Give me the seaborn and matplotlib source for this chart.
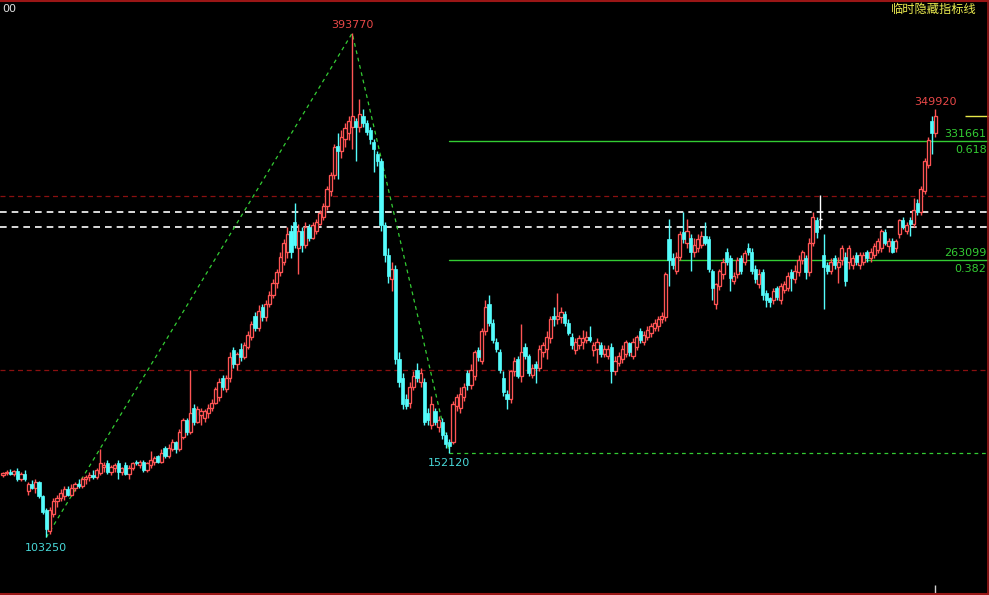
import numpy as np
import pandas as pd
import matplotlib
matplotlib.use("Agg")
import matplotlib.pyplot as plt
from matplotlib.lines import Line2D
import seaborn as sns

# Daily OHLC prices, in thousands
opens = [
    139.5, 140.5, 141, 140, 141.5, 137, 140, 130, 134, 132,
    135, 127, 119, 107, 117, 124, 126, 127, 131, 128,
    132, 134, 133, 137, 138, 139, 138, 140.5, 144, 146,
    141, 143, 146, 141, 145, 140, 143, 147, 145, 147,
    142, 145, 147, 150, 147, 155, 150, 154, 158, 154,
    161, 171, 164, 178, 170, 174, 172, 175, 178, 181,
    184, 195, 189, 195, 211, 203, 212, 207, 213, 219,
    231, 224, 236, 230, 238, 243, 250, 256, 262, 268,
    280, 285, 270, 280, 272, 282, 276, 280, 284, 288,
    294, 303, 312, 329, 326, 333, 336, 340, 343, 340,
    346, 342, 338, 331, 324, 320, 283, 266, 252, 258,
    206, 195, 183, 181, 190, 200, 193, 193, 175, 168,
    176, 167, 170, 162, 158, 158, 179, 178, 184, 198,
    191, 196, 211, 205, 222, 238, 227, 216, 210, 195,
    186, 183, 199, 206, 196, 213, 208, 197, 203, 201,
    210, 212, 218, 231, 229, 230, 232, 227, 219, 211,
    214, 216, 217, 219, 211, 212, 214, 209, 208, 213,
    199, 204, 206, 209, 215, 208, 213, 222, 216, 219,
    221, 224, 225, 229, 230, 275, 264, 257, 265, 279,
    273, 276, 268, 270, 272, 277, 275, 257, 238, 248,
    255, 268, 264, 251, 255, 264, 262, 270, 268, 258,
    249, 256, 244, 241, 240, 247, 240, 246, 247, 256,
    252, 256, 263, 264, 256, 273, 286, 287, 266, 260,
    257, 264, 259, 263, 265, 262, 260, 266, 260, 262,
    268, 264, 266, 269, 270, 279, 271, 274, 270, 278,
    286, 280, 286, 284, 296, 291, 303, 318, 343, 336,
]
highs = [
    141, 142, 142.5, 142, 143, 141, 142, 135, 136.5, 137,
    136, 128, 120, 121, 126, 128, 131, 133, 133, 134,
    135, 137, 138, 139, 141, 142, 143, 154, 147, 148,
    145, 146, 148, 144, 147, 145, 147, 148, 148, 148,
    147, 153, 150, 151, 154, 156, 157, 160, 159, 166,
    172, 172, 199.7, 180, 179, 178, 177, 180, 183, 190,
    195, 197, 197, 210, 213, 210, 215, 216, 222, 228,
    233, 237, 238, 240, 245, 252, 258, 268, 275, 282,
    283, 296, 284, 282, 285, 284, 285, 287, 292, 296,
    306, 314, 330, 336, 338, 342, 346, 393.77, 345, 356,
    350, 344, 340, 333, 326, 322, 285, 270, 262, 260,
    210, 198, 186, 193, 199, 204, 201, 195, 178, 185,
    178, 173, 172, 164, 160, 182, 186, 190, 192, 200,
    203, 211, 213, 224, 240, 243, 229, 218, 212, 199,
    188, 200, 207, 208, 226, 215, 209, 203, 205, 214,
    216, 222, 231, 236, 244, 236, 234, 229, 221, 218,
    220, 223, 222, 225, 216, 218, 216, 214, 214, 215,
    208, 210, 214, 217, 216, 218, 220, 224, 222, 225,
    227, 229, 231, 233, 256, 287, 267, 268, 280, 291,
    287, 278, 276, 278, 280, 285, 277, 258, 250, 258,
    264, 270, 266, 256, 265, 266, 269, 273, 270, 260,
    258, 258, 246, 242, 247, 248, 250, 251, 256, 258,
    260, 266, 269, 266, 276, 291, 288, 300.5, 278, 262,
    264, 266, 265, 272, 268, 272, 266, 268, 268, 268,
    269, 270, 273, 276, 281, 281, 276, 276, 275, 287,
    288, 285, 288, 299, 298, 306, 322, 334, 346, 349.92,
]
lows = [
    138, 139, 139.5, 138.5, 136, 135.5, 136, 128, 131, 129,
    126, 117, 103.25, 105, 115, 121, 124, 125, 127, 127,
    130, 132, 131.5, 134, 136, 137, 137, 139, 141, 140,
    139.5, 141, 137, 139, 139, 137, 142, 145, 143, 141,
    141, 143, 145, 146, 146, 149, 149, 153, 152, 153,
    160, 162, 163, 168, 169, 168, 170, 172, 176, 180,
    182, 188, 187, 193, 201, 200, 205, 206, 212, 217,
    222, 222, 228, 228, 236, 241, 247, 254, 260, 264,
    264, 270, 255, 268, 270, 274, 275, 278, 283, 286,
    292, 300, 310, 310, 322, 328, 332, 327, 320, 337,
    340, 335, 330, 314, 317, 280, 262, 250, 245, 203,
    190, 177, 177, 178, 188, 193, 190, 168, 168, 166,
    168, 164, 160, 155, 152.12, 157, 176, 175, 182, 188,
    189, 194, 205, 203, 220, 225, 215, 210, 198, 185,
    177, 181, 196, 195, 193, 206, 196, 195, 192, 199,
    207, 206, 215, 225, 226, 227, 225, 220, 212, 209,
    212, 212, 215, 216, 208, 204, 207, 207, 206, 192,
    197, 202, 204, 207, 208, 206, 211, 215, 214, 217,
    219, 222, 222, 227, 228, 248, 258, 255, 263, 273,
    270, 257, 265, 268, 270, 272, 256, 240, 235, 246,
    252, 260, 245, 249, 253, 255, 260, 266, 255, 250,
    247, 240, 236, 236, 238, 240, 238, 244, 245, 245,
    250, 254, 261, 252, 254, 271, 276, 281, 235, 255,
    255, 258, 250, 260, 248, 258, 258, 260, 258, 260,
    262, 262, 264, 267, 268, 272, 268, 267, 268, 276,
    281, 278, 277, 282, 289, 289, 301, 316, 324, 334,
]
closes = [
    140.5, 141, 140, 141.5, 137, 140, 137, 134, 132, 135,
    127, 118, 108, 119, 124, 126, 129, 131, 128, 132,
    134, 133, 137, 138, 139, 138, 142, 146, 145, 141,
    144, 145, 141, 143, 140, 143, 146, 146, 147, 142,
    146, 148, 149, 147, 152, 150, 155, 158, 154, 164,
    171, 164, 175, 170, 177, 176, 176, 178, 181, 189,
    193, 190, 195, 207, 203, 209, 207, 214, 220, 226,
    224, 234, 230, 238, 243, 250, 256, 265, 273, 278,
    268, 272, 280, 272, 282, 276, 283, 285, 290, 294,
    304, 312, 328, 326, 334, 339, 343, 346, 340, 347,
    342, 337, 333, 327, 320, 283, 266, 254, 258, 206,
    193, 180, 179, 190, 196, 195, 198, 170, 171, 180,
    170, 171, 162, 157, 156, 180, 184, 186, 190, 191,
    200, 210, 207, 222, 236, 227, 217, 212, 200, 187,
    183, 199, 205, 196, 210, 208, 198, 201, 201, 212,
    214, 219, 229, 229, 231, 233, 227, 221, 214, 216,
    218, 218, 219, 217, 214, 216, 209, 212, 212, 199,
    205, 208, 212, 216, 210, 216, 219, 217, 220, 223,
    225, 227, 229, 231, 255, 263, 260, 265, 278, 275,
    280, 268, 272, 275, 277, 273, 258, 247, 249, 257,
    262, 262, 253, 254, 263, 257, 267, 268, 257, 252,
    255, 243, 240, 239, 245, 242, 248, 249, 254, 253,
    257, 263, 268, 256, 273, 288, 279, 287, 259, 257,
    262, 260, 262, 270, 251, 270, 264, 262, 266, 266,
    264, 268, 271, 274, 280, 273, 274, 268, 274, 286,
    282, 283, 284, 292, 291, 304, 320, 332, 336, 346,
]

# Reference price lines (thousands)
red_levels = [300.0, 200.0]
white_levels = [290.7, 282.1]
fib_ratios = [0.618, 0.382]
title_text = "临时隐藏指标线"
corner_text = "00"

UNIT = 1000
UP_COLOR = "#ff5454"
DOWN_COLOR = "#54fcfc"
FLAT_COLOR = "#ffffff"
GREEN = "#33cc33"
BORDER = "#9a1616"

df = pd.DataFrame({"open": opens, "high": highs, "low": lows, "close": closes})
df["x"] = np.arange(len(df))
n = len(df)

sns.set_theme(style="dark")
plt.rcParams["font.family"] = ["DejaVu Sans", "Noto Sans CJK SC"]

fig = plt.figure(figsize=(9.89, 5.95), dpi=100, facecolor="black")
ax = fig.add_axes([0, 0, 1, 1])
ax.set_facecolor("black")
ax.set_xlim(-0.833, 273.9)
ax.set_ylim(70.1, 412.9)
ax.set_xticks([])
ax.set_yticks([])
ax.grid(False)
for s in ax.spines.values():
    s.set_visible(False)

# horizontal reference lines
for lv in red_levels:
    ax.axhline(lv, color="#8a1010", lw=0.9, ls=(0, (4, 3)), zorder=1)
for lv in white_levels:
    ax.axhline(lv, color="#ffffff", lw=1.2, ls=(0, (4, 3)), zorder=1)

body_w = 0.85
up = df[df.close > df.open]
down = df[df.close < df.open]
flat = df[df.close == df.open]

# wicks
ax.vlines(up.x, up.close, up.high, color=UP_COLOR, lw=1.0, zorder=3)
ax.vlines(up.x, up.low, up.open, color=UP_COLOR, lw=1.0, zorder=3)
ax.vlines(down.x, down.low, down.high, color=DOWN_COLOR, lw=1.0, zorder=3)
ax.vlines(flat.x, flat.low, flat.high, color=FLAT_COLOR, lw=1.0, zorder=3)
ax.hlines(flat.close, flat.x - body_w / 2, flat.x + body_w / 2, color=FLAT_COLOR, lw=1.0, zorder=4)

# bodies: rising hollow red, falling solid cyan
ax.bar(up.x, up.close - up.open, bottom=up.open, width=body_w,
       facecolor="black", edgecolor=UP_COLOR, linewidth=0.95, zorder=4)
ax.bar(down.x, down.open - down.close, bottom=down.close, width=body_w,
       facecolor=DOWN_COLOR, edgecolor=DOWN_COLOR, linewidth=0.5, zorder=4)

# swing points
i_low1 = int(np.argmin(lows[:60]))
i_high1 = int(np.argmax(highs))
i_low2 = i_high1 + int(np.argmin(lows[i_high1:]))
i_high2 = i_low2 + int(np.argmax(highs[i_low2:]))

zig = pd.DataFrame({"x": [i_low1, i_high1, i_low2],
                    "y": [lows[i_low1], highs[i_high1], lows[i_low2]]})
sns.lineplot(data=zig, x="x", y="y", ax=ax, color=GREEN, lw=0.9,
             linestyle=(0, (3, 3)), sort=False, zorder=2)
ax.plot([i_low2, 273.9], [lows[i_low2]] * 2, color=GREEN, lw=0.9,
        ls=(0, (3, 3)), zorder=2)

# projection levels from the second low using the first swing range
swing = highs[i_high1] - lows[i_low1]
for r in fib_ratios:
    lv = lows[i_low2] + r * swing
    fib = pd.DataFrame({"x": [i_low2, 273.9], "y": [lv, lv]})
    sns.lineplot(data=fib, x="x", y="y", ax=ax, color=GREEN, lw=1.0, zorder=2)
    ax.text(0.9975, lv + 1.2, f"{lv * UNIT:.0f}", transform=ax.get_yaxis_transform(),
            ha="right", va="bottom", color=GREEN, fontsize=8)
    ax.text(0.9975, lv - 2.4, f"{r:.3f}", transform=ax.get_yaxis_transform(),
            ha="right", va="top", color=GREEN, fontsize=8)

def mark(i, v, color, above):
    ax.annotate(f"{v * UNIT:.0f}", (i, v), xytext=(0, 2 if above else -4),
                textcoords="offset points", ha="center",
                va="bottom" if above else "top", color=color, fontsize=8, zorder=6)

mark(i_high1, highs[i_high1], "#e84848", True)
mark(i_high2, highs[i_high2], "#e84848", True)
mark(i_low1, lows[i_low1], "#48d8d8", False)
mark(i_low2, lows[i_low2], "#48d8d8", False)

# last price marker
ax.hlines(closes[-1], 267.2, 273.9, color="#e8e84a", lw=1.0, zorder=5)
ax.vlines(n - 1, 0, 0.016, transform=ax.get_xaxis_transform(), color="#d0d0d0", lw=1.0)

fig.text(0.988, 0.984, title_text, ha="right", va="center", color="#ecec50",
         fontsize=8.8, family=["Noto Sans CJK SC", "DejaVu Sans"])
fig.text(0.002, 0.985, corner_text, ha="left", va="center", color="#e0e0e0", fontsize=8)

# frame
fig.add_artist(Line2D([0, 1], [1 - 1 / 595, 1 - 1 / 595], color=BORDER, lw=1.5))
fig.add_artist(Line2D([0, 1], [1.5 / 595, 1.5 / 595], color=BORDER, lw=1.5))
fig.add_artist(Line2D([988 / 989, 988 / 989], [0, 1], color=BORDER, lw=1.2))

fig.savefig("out.png", dpi=100, facecolor="black")
